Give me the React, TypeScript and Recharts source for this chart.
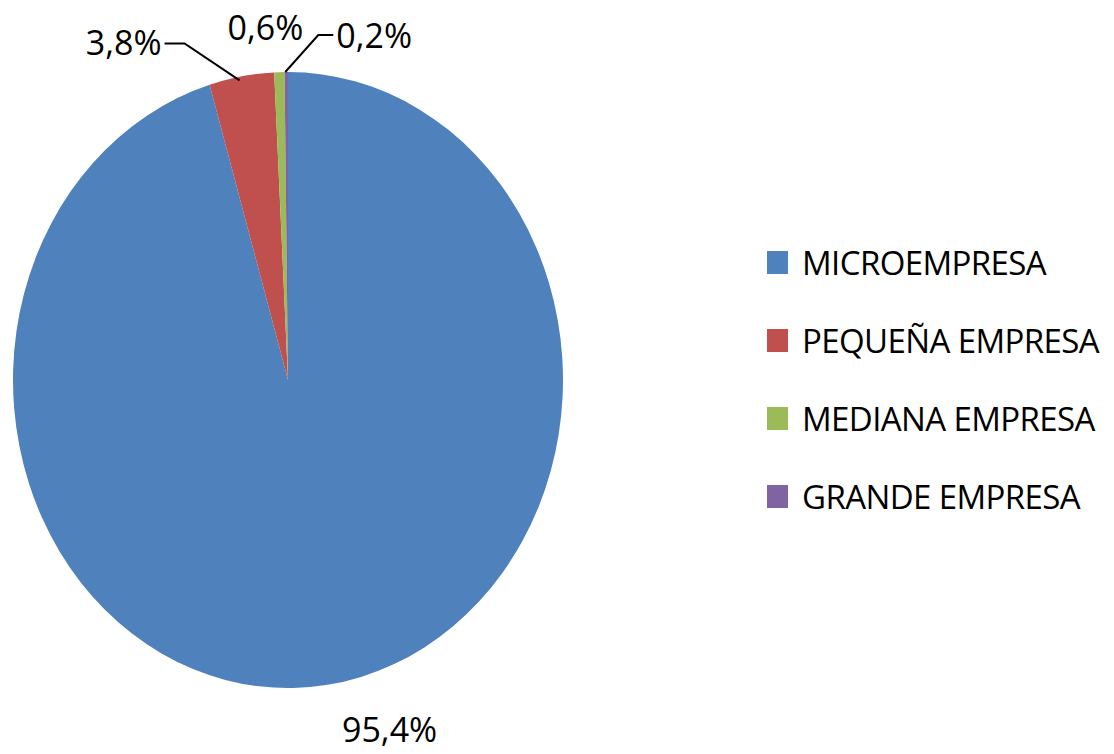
import { PieChart, Pie, Cell, Legend, Sector } from 'recharts'

const categories = ['MICROEMPRESA', 'PEQUEÑA EMPRESA', 'MEDIANA EMPRESA', 'GRANDE EMPRESA']
const shares = [95.4, 3.8, 0.6, 0.2]
const labels = ['95,4%', '3,8%', '0,6%', '0,2%']
const colors = ['#4F81BD', '#C0504D', '#9BBB59', '#8064A2']

const data = categories.map((name, i) => ({ name, value: shares[i] }))

const FONT = '"Open Sans", sans-serif'
const CX = 288
const CY = 380
const R = 275
const SY = 1.12 // the original pie is a bit taller than wide

const RAD = Math.PI / 180

// point on the (stretched) rim for a given angle
const rim = (angle: number, r = R) => ({
  x: CX + r * Math.cos(-angle * RAD),
  y: CY + r * Math.sin(-angle * RAD) * SY,
})

const EllipseSector = (props: any) => (
  <g transform={`translate(0 ${CY}) scale(1 ${SY}) translate(0 ${-CY})`}>
    <Sector {...props} stroke="none" />
  </g>
)

const renderLabel = (props: any) => {
  const { index, midAngle } = props
  const p = rim(midAngle)
  const txt = { fontFamily: FONT, fontSize: 34, fill: '#000' }
  if (index === 0) {
    return (
      <text x={p.x + 62} y={p.y + 57} textAnchor="middle" {...txt}>
        {labels[index]}
      </text>
    )
  }
  if (index === 1) {
    return (
      <g>
        <polyline
          points={`${p.x - 2},${p.y + 4} ${p.x - 57},${p.y - 33} ${p.x - 77},${p.y - 33}`}
          fill="none"
          stroke="#000"
          strokeWidth={2}
        />
        <text x={p.x - 80} y={p.y - 21} textAnchor="end" {...txt}>
          {labels[index]}
        </text>
      </g>
    )
  }
  if (index === 2) {
    return (
      <text x={p.x - 14} y={p.y - 32} textAnchor="middle" {...txt}>
        {labels[index]}
      </text>
    )
  }
  return (
    <g>
      <polyline
        points={`${p.x - 1},${p.y} ${p.x + 32},${p.y - 37} ${p.x + 47},${p.y - 37}`}
        fill="none"
        stroke="#000"
        strokeWidth={2}
      />
      <text x={p.x + 50} y={p.y - 24} textAnchor="start" {...txt}>
        {labels[index]}
      </text>
    </g>
  )
}

const renderLegend = () => (
  <div style={{ fontFamily: FONT }}>
    {categories.map((name, i) => (
      <div key={name} style={{ display: 'flex', alignItems: 'center', height: 78 }}>
        <span style={{ width: 21, height: 23, background: colors[i], marginRight: 14, flexShrink: 0 }} />
        <span style={{ fontSize: 33, letterSpacing: -0.6, color: '#000', whiteSpace: 'nowrap' }}>{name}</span>
      </div>
    ))}
  </div>
)

export default function App() {
  return (
    <div style={{ width: 1114, height: 754, background: '#fff' }}>
      <style>{'body{margin:0}'}</style>
      <PieChart width={1114} height={754} margin={{ top: 0, right: 0, bottom: 0, left: 0 }}>
        <Pie
          data={data}
          dataKey="value"
          nameKey="name"
          cx={CX}
          cy={CY}
          outerRadius={R}
          startAngle={90}
          endAngle={-270}
          stroke="none"
          shape={EllipseSector}
          label={renderLabel}
          labelLine={false}
          isAnimationActive={false}
        >
          {data.map((d, i) => (
            <Cell key={d.name} fill={colors[i]} />
          ))}
        </Pie>
        <Legend
          layout="vertical"
          align="right"
          verticalAlign="top"
          content={renderLegend}
          wrapperStyle={{ left: 767, top: 223, width: 347 }}
        />
      </PieChart>
    </div>
  )
}
